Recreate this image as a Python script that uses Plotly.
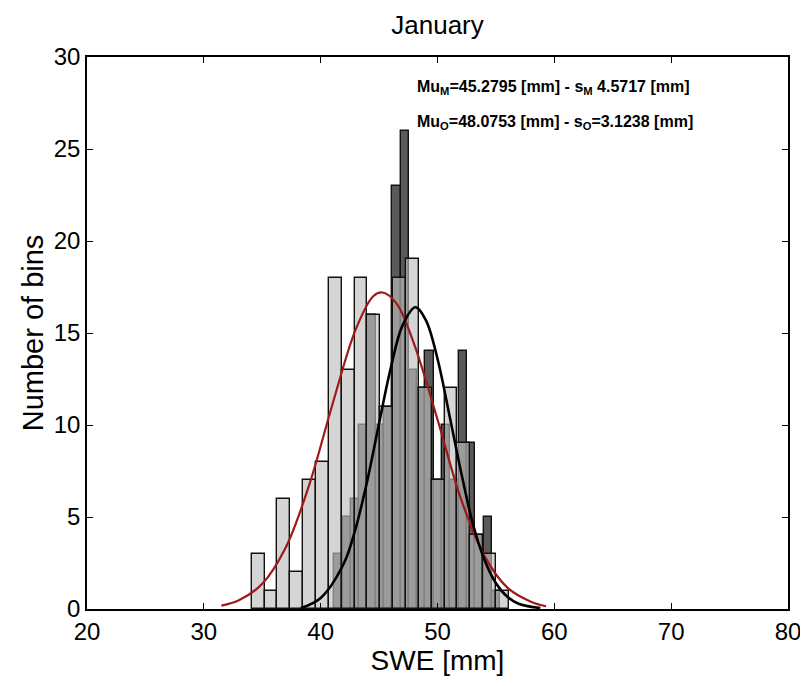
import plotly.graph_objects as go

# ---- data ----
light_centers = [34.65, 35.75, 36.85, 37.95, 39.05, 40.15, 41.25, 42.35, 43.45, 44.55,
                 45.65, 46.75, 47.85, 48.95, 50.05, 51.15, 52.25, 53.35, 54.45, 55.55]
light_counts = [3, 1, 6, 2, 7, 8, 18, 13, 18, 16,
                11, 18, 19, 12, 7, 12, 9, 4, 3, 1]

dark_centers = [41.515, 42.225, 42.935, 43.645, 44.355, 45.065, 45.775, 46.485, 47.195, 47.905,
                48.615, 49.325, 50.035, 50.745, 51.455, 52.165, 52.875, 53.585, 54.295, 55.005]
dark_counts = [3, 5, 6, 10, 16, 10, 11, 23, 26, 13,
               12, 14, 7, 10, 7, 14, 9, 4, 5, 1]

red_x = [31.5, 33, 35, 37, 39, 41, 43, 44.5, 45.3, 46.5, 48, 50, 52, 54, 56, 58, 59.3]
red_y = [0.18, 0.47, 1.37, 3.33, 6.7, 11.1, 15.2, 17.0, 17.2, 16.6, 14.4, 10.3, 6.0, 2.9, 1.15, 0.4, 0.15]

black_x = [38.3, 40, 42, 43, 44, 45, 46, 47, 48.1, 49, 50, 51, 52, 53, 54, 55, 56, 57, 58.8]
black_y = [0.05, 0.6, 2.5, 4.4, 7.0, 10.1, 13.1, 15.4, 16.4, 15.7, 13.6, 10.6, 7.5, 4.7, 2.7, 1.4, 0.65, 0.27, 0.05]

x_ticks = [20, 30, 40, 50, 60, 70, 80]
y_ticks = [0, 5, 10, 15, 20, 25, 30]

FONT = "Liberation Sans, Arial, Helvetica, sans-serif"

fig = go.Figure()
fig.add_trace(go.Bar(x=dark_centers, y=dark_counts, width=0.71,
                     marker=dict(color="#5a5a5a", line=dict(color="#111111", width=1.4)),
                     showlegend=False))
fig.add_trace(go.Bar(x=light_centers, y=light_counts, width=1.1,
                     marker=dict(color="rgba(190,190,190,0.65)", line=dict(color="#111111", width=1.4)),
                     showlegend=False))
fig.add_trace(go.Scatter(x=red_x, y=red_y, mode="lines", line=dict(color="#9e1a1a", width=2.2, shape="spline"),
                         showlegend=False))
fig.add_trace(go.Scatter(x=black_x, y=black_y, mode="lines", line=dict(color="#000000", width=2.6, shape="spline"),
                         showlegend=False))

fig.add_annotation(x=0.468, y=0.944, xref="paper", yref="paper", xanchor="left", yanchor="middle",
                   text="<b>Mu<sub>M</sub>=45.2795 [mm] - s<sub>M</sub> 4.5717 [mm]</b>",
                   showarrow=False, font=dict(family=FONT, size=16, color="#000"))
fig.add_annotation(x=0.468, y=0.882, xref="paper", yref="paper", xanchor="left", yanchor="middle",
                   text="<b>Mu<sub>O</sub>=48.0753 [mm] - s<sub>O</sub>=3.1238 [mm]</b>",
                   showarrow=False, font=dict(family=FONT, size=16, color="#000"))

fig.update_layout(
    width=808, height=686,
    margin=dict(l=79, r=28, t=49, b=85),
    paper_bgcolor="white", plot_bgcolor="white",
    barmode="overlay", bargap=0,
    title=dict(text="January", x=0.5, xanchor="center", xref="paper", y=0.975, yanchor="middle",
               font=dict(family=FONT, size=26, color="#000")),
    font=dict(family=FONT, color="#000"),
)
fig.update_xaxes(range=[20, 80], tickvals=x_ticks, ticks="inside", ticklen=6, tickwidth=1.3, tickcolor="#000",
                 showline=True, linecolor="#000", linewidth=1.6, mirror="ticks", showgrid=False, zeroline=False,
                 tickfont=dict(size=24, family=FONT),
                 title=dict(text="SWE [mm]", font=dict(size=28, family=FONT), standoff=4))
fig.update_yaxes(range=[0, 30], tickvals=y_ticks, ticks="inside", ticklen=6, tickwidth=1.3, tickcolor="#000",
                 showline=True, linecolor="#000", linewidth=1.6, mirror="ticks", showgrid=False, zeroline=False,
                 tickfont=dict(size=24, family=FONT),
                 title=dict(text="Number of bins", font=dict(size=29, family=FONT), standoff=2))

fig.write_html("out.html")
